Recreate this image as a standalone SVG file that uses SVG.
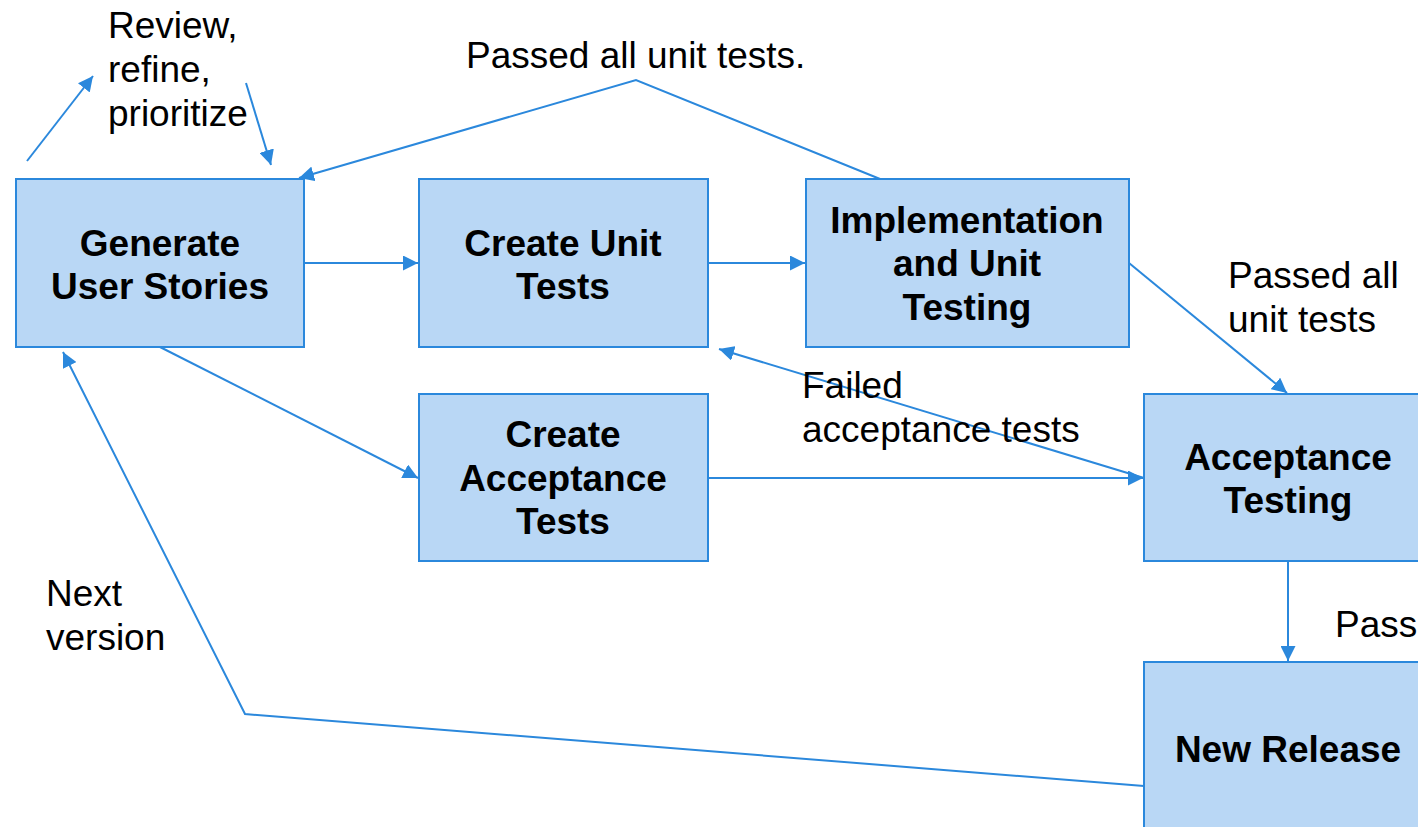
<svg xmlns="http://www.w3.org/2000/svg" width="1418" height="827" viewBox="0 0 1418 827">
  <defs>
    <marker id="arrow" viewBox="0 0 10 10" refX="10" refY="5" markerWidth="7.5" markerHeight="7.5" markerUnits="strokeWidth" orient="auto">
      <path d="M0,0 L10,5 L0,10 z" fill="#2b88dc"/>
    </marker>
    <style>
      .box { fill: #b9d7f5; stroke: #2b88dc; stroke-width: 2; }
      .title { font-family: "Liberation Sans", Arial, sans-serif; font-size: 37px; font-weight: bold; fill: #000; text-anchor: middle; }
      .label { font-family: "Liberation Sans", Arial, sans-serif; font-size: 37px; fill: #000; }
      .edge { fill: none; stroke: #2b88dc; stroke-width: 2; marker-end: url(#arrow); }
    </style>
  </defs>
  <rect width="1418" height="827" fill="#ffffff"/>

  <!-- connectors -->
  <g id="connectors">
    <line class="edge" x1="304" y1="263" x2="418" y2="263"/>
    <line class="edge" x1="708" y1="263" x2="805" y2="263"/>
    <polyline class="edge" points="885,181 636,80 299,178"/>
    <line class="edge" x1="27" y1="161" x2="93" y2="76"/>
    <line class="edge" x1="246" y1="83" x2="271" y2="165"/>
    <line class="edge" x1="160" y1="347" x2="418" y2="478"/>
    <line class="edge" x1="708" y1="478" x2="1143" y2="478"/>
    <line class="edge" x1="1129" y1="263" x2="1287" y2="393"/>
    <line class="edge" x1="1144" y1="478" x2="719" y2="349"/>
    <line class="edge" x1="1288" y1="561" x2="1288" y2="661"/>
    <polyline class="edge" points="1144,786 245,714 63,352"/>
  </g>

  <!-- free labels -->
  <g id="labels">
    <text class="label" x="108" y="38">Review,</text>
    <text class="label" x="108" y="82">refine,</text>
    <text class="label" x="108" y="126">prioritize</text>
    <text class="label" x="466" y="68">Passed all unit tests.</text>
    <text class="label" x="1228" y="288">Passed all</text>
    <text class="label" x="1228" y="332">unit tests</text>
    <text class="label" x="802" y="398">Failed</text>
    <text class="label" x="802" y="442">acceptance tests</text>
    <text class="label" x="46" y="606">Next</text>
    <text class="label" x="46" y="650">version</text>
    <text class="label" x="1335" y="637">Pass</text>
  </g>

  <!-- nodes -->
  <g id="generate-user-stories">
    <rect class="box" x="16" y="179" width="288" height="168"/>
    <text class="title" x="160" y="256">Generate</text>
    <text class="title" x="160" y="299">User Stories</text>
  </g>
  <g id="create-unit-tests">
    <rect class="box" x="419" y="179" width="289" height="168"/>
    <text class="title" x="563" y="256">Create Unit</text>
    <text class="title" x="563" y="299">Tests</text>
  </g>
  <g id="implementation">
    <rect class="box" x="806" y="179" width="323" height="168"/>
    <text class="title" x="967" y="233">Implementation</text>
    <text class="title" x="967" y="276">and Unit</text>
    <text class="title" x="967" y="320">Testing</text>
  </g>
  <g id="create-acceptance-tests">
    <rect class="box" x="419" y="394" width="289" height="167"/>
    <text class="title" x="563" y="447">Create</text>
    <text class="title" x="563" y="491">Acceptance</text>
    <text class="title" x="563" y="534">Tests</text>
  </g>
  <g id="acceptance-testing">
    <rect class="box" x="1144" y="394" width="288" height="167"/>
    <text class="title" x="1288" y="470">Acceptance</text>
    <text class="title" x="1288" y="513">Testing</text>
  </g>
  <g id="new-release">
    <rect class="box" x="1144" y="662" width="288" height="168"/>
    <text class="title" x="1288" y="762">New Release</text>
  </g>
</svg>
